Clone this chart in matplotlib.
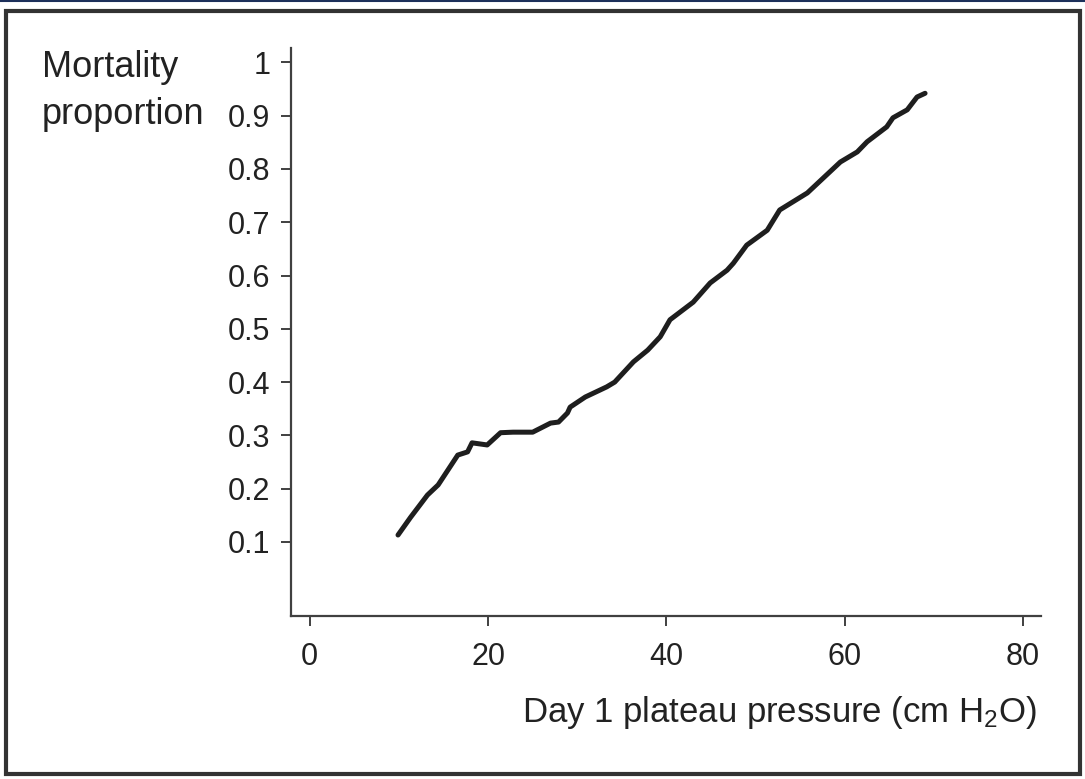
import matplotlib
matplotlib.use("Agg")
import matplotlib.pyplot as plt
from matplotlib.patches import Rectangle
from matplotlib.lines import Line2D

# Smoothed mortality curve
pressure = [9.9, 11.3, 13.2, 14.4, 16.6, 17.7, 18.2, 19.9, 21.4, 22.8, 25.0,
            27.0, 27.9, 28.9, 29.2, 30.9, 33.3, 34.2, 36.3, 37.9, 39.3, 40.4,
            43.0, 44.9, 46.8, 47.5, 49.0, 51.3, 52.7, 55.8, 59.5, 61.4, 62.5,
            64.7, 65.4, 67.0, 68.1, 69.0]
mortality = [0.113, 0.146, 0.188, 0.207, 0.263, 0.269, 0.286, 0.282, 0.305,
             0.306, 0.306, 0.323, 0.325, 0.342, 0.353, 0.372, 0.391, 0.400,
             0.438, 0.460, 0.485, 0.517, 0.550, 0.586, 0.610, 0.623, 0.657,
             0.685, 0.723, 0.755, 0.813, 0.832, 0.851, 0.879, 0.896, 0.911,
             0.935, 0.942]

x_ticks = [0, 20, 40, 60, 80]
y_ticks = [0.1, 0.2, 0.3, 0.4, 0.5, 0.6, 0.7, 0.8, 0.9, 1]
y_tick_labels = ["0.1", "0.2", "0.3", "0.4", "0.5", "0.6", "0.7", "0.8", "0.9", "1"]

W, H = 1085, 779
fig = plt.figure(figsize=(W / 100, H / 100), dpi=100)
ax = fig.add_axes([291 / W, 1 - 616 / H, (1041 - 291) / W, (616 - 48) / H])

ax.plot(pressure, mortality, color="#1e1e1e", lw=3.6, solid_capstyle="round",
        solid_joinstyle="round")

ax.set_xlim(-2.1, 82.0)
ax.set_ylim(-0.039, 1.027)

for side in ["top", "right"]:
    ax.spines[side].set_visible(False)
for side in ["left", "bottom"]:
    ax.spines[side].set_color("#404040")
    ax.spines[side].set_linewidth(1.6)

tick_font = {"family": ["Liberation Sans", "DejaVu Sans"],
             "size": 22, "color": "#222222"}
ax.set_xticks(x_ticks)
ax.set_xticklabels([str(t) for t in x_ticks], fontdict=tick_font)
ax.set_yticks(y_ticks)
ax.set_yticklabels(y_tick_labels, fontdict=tick_font)
ax.tick_params(axis="both", direction="out", length=7, width=1.4, color="#404040")
ax.tick_params(axis="y", pad=8)
ax.tick_params(axis="x", pad=12)

label_font = ["Liberation Sans", "DejaVu Sans"]
fig.text(42 / W, 1 - 77 / H, "Mortality", ha="left", va="baseline",
         fontsize=26, family=label_font, color="#222222")
fig.text(42 / W, 1 - 124 / H, "proportion", ha="left", va="baseline",
         fontsize=26, family=label_font, color="#222222")
fig.text(1037 / W, 1 - 722 / H, r"Day 1 plateau pressure (cm $\mathregular{H_2O}$)",
         ha="right", va="baseline", fontsize=25, family=label_font, color="#222222")

# Outer frame like the journal figure box
fig.patches.append(Rectangle((6 / W, 1 - 774 / H), (1080 - 6) / W, (774 - 11) / H,
                             transform=fig.transFigure, fill=False,
                             edgecolor="#333333", lw=3))
fig.lines.append(Line2D([0, 1], [1 - 1 / H, 1 - 1 / H], transform=fig.transFigure,
                        color="#1c2f5a", lw=1.5))

fig.savefig("out.png", dpi=100)
